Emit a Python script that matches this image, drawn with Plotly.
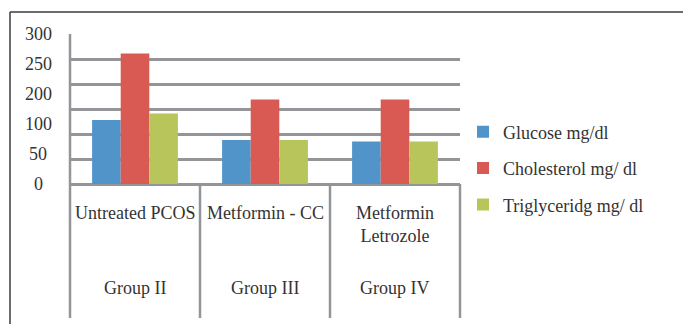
import plotly.graph_objects as go

# ---- data -------------------------------------------------------------
groups = ["Group II", "Group III", "Group IV"]
treatments = ["Untreated PCOS", "Metformin - CC", "Metformin<br>Letrozole"]
glucose = [128, 88, 85]
cholesterol = [261, 169, 169]
triglyceride = [141, 88, 85]
series_names = ["Glucose mg/dl", "Cholesterol mg/ dl", "Triglyceridg mg/ dl"]
y_tick_text = ["0", "50", "100", "200", "250", "300"]

# ---- styling ----------------------------------------------------------
W, H = 683, 324
ML, MR, MT, MB = 70, 223, 34, 140
PW, PH = W - ML - MR, H - MT - MB
FONT = "Liberation Serif"
TXT = "#333333"
GRID = "#939598"
colors = ["#5094c9", "#d95a52", "#b7c55a"]
YMAX = 300


def px_x(p):
    """pixel column -> paper x"""
    return (p - ML) / PW


def px_y(p):
    """pixel row -> paper y"""
    return (H - MB - p) / PH


fig = go.Figure()
for i, (name, vals) in enumerate(zip(series_names, [glucose, cholesterol, triglyceride])):
    fig.add_trace(go.Bar(
        x=groups, y=vals, name=name, legendgroup=name,
        marker=dict(color=colors[i], line=dict(width=0)),
    ))

shapes = []
# category dividers running down through both label rows
n = len(groups)
bottom = px_y(318)
for k in range(n + 1):
    shapes.append(dict(type="line", xref="paper", yref="paper",
                       x0=k / n, x1=k / n, y0=1 if k == 0 else 0, y1=bottom,
                       line=dict(color=GRID, width=2.5)))
# outer frame (top and left edges)
shapes.append(dict(type="line", xref="paper", yref="paper",
                   x0=px_x(10), x1=px_x(W + 2), y0=px_y(12), y1=px_y(12),
                   line=dict(color="#3c3c3c", width=1.5)))
shapes.append(dict(type="line", xref="paper", yref="paper",
                   x0=px_x(10), x1=px_x(10), y0=px_y(12), y1=px_y(H + 2),
                   line=dict(color="#3c3c3c", width=1.5)))

annotations = []
# value labels on the left, spread evenly over the axis
for j, t in enumerate(y_tick_text):
    annotations.append(dict(xref="paper", yref="y", x=px_x(38),
                            y=j * YMAX / (len(y_tick_text) - 1),
                            text=t, showarrow=False, xanchor="center", yanchor="middle",
                            font=dict(family=FONT, size=18, color=TXT)))
# two-level category labels
for i in range(n):
    annotations.append(dict(xref="x", yref="paper", x=i, y=px_y(201),
                            text=treatments[i], showarrow=False,
                            xanchor="center", yanchor="top",
                            font=dict(family=FONT, size=18, color=TXT)))
    annotations.append(dict(xref="x", yref="paper", x=i, y=px_y(288),
                            text=groups[i], showarrow=False,
                            xanchor="center", yanchor="middle",
                            font=dict(family=FONT, size=18, color=TXT)))

fig.update_layout(
    width=W, height=H,
    margin=dict(l=ML, r=MR, t=MT, b=MB, pad=0),
    paper_bgcolor="white", plot_bgcolor="white",
    barmode="group", bargap=0.34, bargroupgap=0,
    font=dict(family=FONT, size=18, color=TXT),
    xaxis=dict(type="category", showticklabels=False, showgrid=False,
               zeroline=False, showline=False, ticks="", range=[-0.5, n - 0.5]),
    yaxis=dict(range=[0, YMAX], dtick=50, showticklabels=False, ticks="",
               showgrid=True, gridcolor=GRID, gridwidth=2.5,
               zeroline=True, zerolinecolor=GRID, zerolinewidth=2.5, showline=False),
    legend=dict(x=px_x(463), xanchor="left", y=px_y(168.5), yanchor="middle",
                font=dict(family=FONT, size=18, color=TXT),
                tracegroupgap=10, bgcolor="rgba(0,0,0,0)"),
    shapes=shapes, annotations=annotations,
)

fig.write_html("out.html")
